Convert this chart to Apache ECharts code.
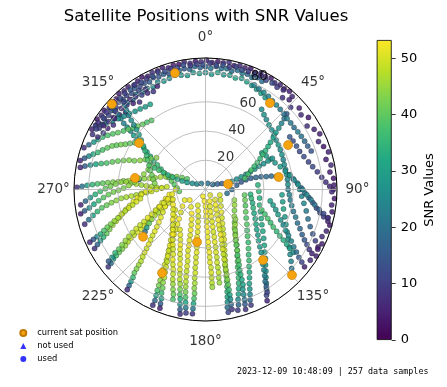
<!DOCTYPE html>
<html><head><meta charset="utf-8">
<script src="https://cdn.jsdelivr.net/npm/echarts@6/dist/echarts.min.js"></script>
<style>html,body{margin:0;padding:0;background:#fff}#c{width:447px;height:387px}</style>
</head><body><div id="c"></div>
<script>
// ---- texts / ticks ----
const titleText = 'Satellite Positions with SNR Values';
const footerText = '2023-12-09 10:48:09 | 257 data samples';
const angleTicks = [0, 45, 90, 135, 180, 225, 270, 315];
const angleTickLabels = ['0°', '45°', '90°', '135°', '180°', '225°', '270°', '315°'];
const radiusTicks = [20, 40, 60, 80];
const colorbarTicks = [0, 10, 20, 30, 40, 50];
const snrMin = 0, snrMax = 53.25, radiusMax = 90;
const legendNames = ['current sat position', 'not used', 'used'];

// ---- current satellite positions (azimuth deg, radius) ----
const currentAz = [345.3, 312.4, 36.7, 61.7, 305.0, 279.3, 76.3, 189.2, 207.5, 140.8, 134.7, 80.3, 232.9];
const currentR  = [82.4, 86.7, 73.8, 64.2, 55.5, 48.9, 15.9, 36.4, 64.4, 62.3, 83.3, 50.8, 53.6];

// ---- satellite tracks: [azimuth, radius, SNR] ----
const sat01 = [[298,88,6],[300.5,87,5],[303,88.5,4],[305.5,87.5,7],[308,88,5],[310.5,86.5,8],[313,88,6],[315.5,87,4],[318,88.5,5],[320.5,87.5,7],[323,88,6],[325.5,86.5,9],[328,87.5,5],[330.5,88.5,4],[333,87,6],[335.5,88,8],[338,87.5,5],[340.5,88.5,6],[343,87,7],[345.5,88,5],[348,87.5,4],[350.5,88.5,6],[353,87,8],[355.5,88,5],[358,87.5,7],[0.5,88.5,6],[3,87,5],[5.5,88,4],[8,87.5,6],[10.5,88.5,8],[13,87,5],[15.5,88,7],[18,87.5,6],[20.5,88.5,4],[23,87,5],[25.5,88,7],[28,87.5,6],[30.5,88.5,5],[33,87,8],[35.5,88,6],[38,87.5,4],[40.5,88.5,5],[43,87,7]];
const sat02 = [[300,84,10],[302.5,83,12],[305,84.5,9],[307.5,83.5,11],[310,84,13],[312.5,83,10],[315,84.5,12],[317.5,83.5,14],[320,84,11],[322.5,83,13],[325,84.5,15],[327.5,83.5,12],[330,84,14],[332.5,83,16],[335,84.5,13],[337.5,83.5,15],[340,84,17],[342.5,83,14],[345,84.5,16],[347.5,83.5,18],[350,84,15],[352.5,83,17],[355,84.5,19],[357.5,83.5,16],[0,84,18],[2.5,83,20],[5,84.5,17],[7.5,83.5,19],[10,84,21],[12.5,83,18],[15,84.5,20],[17.5,83.5,22],[20,84,19],[22.5,83,21],[25,84.5,18],[27.5,83.5,20]];
const sat03 = [[318,80,22],[321,79,24],[324,80.5,21],[327,79.5,25],[330,80,23],[333,79,26],[336,80.5,24],[339,79.5,27],[342,80,25],[345,81,28],[348,80,26],[351,79,28],[354,80.5,27],[357,79.5,29],[0,80,26],[3,79,28],[6,80.5,30],[9,79.5,27],[12,80,29],[15,79,31],[18,80,28],[21,79,30],[24,78,27],[27,77,29],[30,76,31],[33,75,28],[36,74,30]];
const sat04 = [[302,79,6],[305,77,8],[308,80,5],[311,78,9],[314,76,7],[317,79,10],[320,77,6],[323,75,8],[326,78,11],[329,77,7],[332,76,9],[335,78,6]];
const sat05 = [[312,86,20],[311,82.5,22],[310.5,79,21],[310,75.5,24],[309,72,23],[308.5,68.5,26],[308,65,25],[307,61.5,28],[306,58,30],[305,54.5,29],[304,51,32],[302.5,47.5,31],[301,44,34],[299,40.5,33],[297,37,36],[294.5,33.5,35],[291.5,30,38],[288,27,37],[284,24,40],[279,21.5,39],[273,19.5,41],[266,18,40]];
const sat06 = [[289,88,8],[291,85.5,18],[293,83,28],[295,81,33],[297,79,36],[299,76.5,38],[301,74,39],[303,71.5,40],[305.5,69,38],[308,67,40],[310.5,65,39],[313,63.5,41],[316,62,40],[319,61,38],[322,60,39]];
const sat07 = [[283,88,6],[284.5,85.5,15],[286,83,25],[287.5,80.5,32],[289,78,36],[291,75.5,38],[293,73,40],[295,70.5,41],[296.5,68,40],[298,65.5,42],[299.5,63,41],[301.5,60.5,40],[303.5,58,39]];
const sat08 = [[300,87,12],[302,84,18],[304,81.5,22],[306.5,79,25],[309,77,27],[312,75,26],[315,73.5,28],[318,72,27],[321,71,29],[324,70,28],[327,69.5,30]];
const sat09 = [[280,87,7],[281,84,16],[282,80.5,26],[283,77,32],[284,73.5,36],[285,70,38],[286.5,66.5,40],[288,63,41],[289.5,59.5,42],[291,56,43],[292,52.5,42],[294,49,44],[296.5,46,43],[299.5,43,42],[303,40,44]];
const sat10 = [[271,88,8],[271.5,84.5,20],[272,81,30],[272.5,77.5,35],[273,74,38],[273.5,70.5,40],[274,67,42],[274.5,63.5,43],[275,60,44],[276,56.5,43],[276.5,53,45],[277.5,49.5,20],[278.5,46,15],[280,42.5,44],[281.5,39,46],[283,35.5,45],[285.5,32,46],[288,28.5,45],[291,25,44],[294,21.5,43],[297,18,41],[300,14.5,39]];
const sat11 = [[263,86,6],[264.5,82.5,18],[266,79,28],[267.5,75.5,34],[269,72,37],[270.5,68.5,40],[272,65,42],[273.5,61.5,43],[275,58,44],[275.5,54.5,45],[275,51,44],[274.5,47.5,46],[274,44,45],[273.5,40.5,47],[273,37,46],[272.5,33.5,47],[272,30,48]];
const sat12 = [[259,87,5],[260,84,15],[261,80.5,25],[262.5,77,32],[264,73.5,36],[265.5,70,39],[267,66.5,41],[268.5,63,42],[269.5,59.5,43],[271,56,42],[273,52.5,44],[276,49,43],[279.5,46,42],[284,43.5,44],[289,41.5,43],[294,40,42]];
const sat13 = [[254,86,8],[255.5,82.5,20],[257,79,30],[258.5,75.5,35],[260,72,39],[261,68.5,41],[262,65,43],[263,61.5,44],[264,58,45],[264.5,54.5,46],[265,51,47],[265.5,47.5,46],[266.5,44,48],[267,40.5,47],[268,37,49],[270,33.5,48],[272,30,49],[274,26.5,48]];
const sat14 = [[270,38,50],[268,41,51],[265.5,44,50],[263,47,52],[260.5,50,51],[258,53,50],[256,56,49],[254,59,50],[252,62,48],[250.5,65,47],[249,68,45],[247.5,71,43],[246,74,40],[245,77,35],[244,80,27],[243,83,17],[242,86,8]];
const sat15 = [[257,28,51],[253,31,50],[249.5,34,52],[246.5,37,51],[244,40,50],[242,43,52],[240.5,46,50],[239.5,49,51],[238.5,52,49],[238,55,50],[237.5,58,48],[237,61,49],[236,64,47],[235,67,45],[234.5,70,43],[234,73,41],[233.5,76,37],[233,79,30],[232,82,20],[231.5,85,9]];
const sat16 = [[253,24,48],[250,27,49],[247.5,30,47],[245.5,33,48],[244,36,46],[243,39,47],[241,42,44],[239,45,40],[237,48,30],[235,50.5,20],[233.5,53,14]];
const sat17 = [[262,25,52],[254,27.5,51],[247,30,52],[242,33,50],[238,36,51],[235,39,52],[232.5,42,50],[230.5,45,51],[229,48,49],[227.5,51,50],[226,54,51],[225,57,49],[224,60,50],[223,63,48],[222,66,47],[221.5,69,45],[221,72,43],[220.5,75,40],[219.5,78,36],[219,81,28],[218.5,84,17],[218,87,7]];
const sat18 = [[243,16,51],[234,19.5,52],[227,23,50],[222,27,52],[219,30.5,51],[216.5,34,50],[215,37.5,52],[213.5,41,50],[212,44.5,51],[211,48,49],[210,51.5,50],[209,55,48],[208.5,58.5,49],[208,62,47],[207,66,46],[206.5,69.5,44],[206,73,42],[205.5,76.5,38],[205,80,30],[204.5,83.5,18],[204.5,87,8]];
const sat19 = [[236,25,50],[229,28,51],[224,31.5,49],[220,35,50],[217,38.5,52],[214.5,42,50],[212.5,45.5,51],[211,49,49],[209.5,52.5,50],[208,56,48],[207,59.5,49],[206,63,47],[205,66.5,46],[204.5,70,44],[203.5,73.5,41],[203,77,36],[202,80.5,28],[201.5,84,16],[201,87,6]];
const sat20 = [[236,13,52],[220,15.5,51],[210,19,53],[205,22.5,52],[202,26,51],[200,29.5,52],[198.5,33,50],[197.5,36.5,51],[196.5,40,52],[196,43.5,50],[195,47,51],[194,50.5,49],[193.5,54,50],[193,57.5,48],[192.5,61,49],[192,64.5,47],[191.5,68,45],[191,71.5,42],[190.5,75,38],[190,78.5,32],[189.5,82,22],[189,85.5,10]];
const sat21 = [[206,12,50],[199,15.5,51],[195,19,49],[193,22.5,50],[191.5,26,52],[190.5,29.5,50],[190,33,51],[189,36.5,48],[188.5,40,50],[188,43.5,51],[188,47,49],[187.5,50.5,50],[187.5,54,48],[187,57.5,49],[187,61,47],[186.5,64.5,46],[186.5,68,44],[186,71.5,41],[186,75,38],[186,78.5,32],[186,82,21],[186,85.5,9]];
const sat22 = [[200,5,52],[185,8,53],[180,11.5,52],[179,15,53],[178.5,18.5,52],[178,22,51],[178,25.5,53],[177.5,29,52],[177.5,32.5,51],[177,36,53],[177,39.5,51],[176.5,43,52],[176.5,46.5,50],[176.5,50,51],[176,53.5,49],[176,57,50],[176,60.5,48],[176,64,47],[176,67,45]];
const sat23 = [[140,5,51],[160,8.5,52],[165,12,50],[167,15.5,51],[168,19,52],[168.5,22.5,50],[169,26,51],[169.5,29.5,49],[169.5,33,50],[170,36.5,51],[170,40,49],[170.5,43.5,50],[170.5,47,48],[171,50.5,49],[171,54,47],[171,57.5,48],[171.5,61,46],[171.5,64.5,45]];
const sat24 = [[111,10.5,50],[125,12.5,49],[137,15.5,50],[145,19,51],[150,22.5,49],[153.5,26,50],[156,29.5,48],[158,33,49],[159.5,36.5,50],[161,40,48],[162.5,43.5,49],[163.5,47,47],[164.5,50.5,46],[165.5,54,44],[166,57.5,43],[166.5,61,41],[167,64.5,39],[167.5,68,37],[168,71.5,34],[168.5,75,31],[169,78.5,27],[169.5,82,20],[169.5,85.5,11]];
const sat25 = [[110,21,44],[118,22.5,45],[126,24.5,43],[133,27,44],[138.5,30,42],[143,33,43],[146,36.5,41],[148.5,40,42],[150.5,43.5,40],[152.5,47,41],[154.5,50.5,39],[156,54,40],[157.5,57.5,38],[158.5,61,37],[159.5,64.5,36],[160.5,68,34],[161.5,71.5,32],[162.5,75,30],[163.5,78.5,25],[164,82,18],[165,85.5,10]];
const sat26 = [[98,27,40],[105,28,41],[112,29.5,39],[119,31.5,40],[125,34,38],[130,37,39],[134.5,40,37],[138,43,38],[141,46.5,36],[144,50,37],[146.5,53.5,35],[148.5,57,36],[150.5,60.5,34],[152,64,33],[153.5,67.5,31],[155,71,30],[156,74.5,28],[157,78,24],[158,81.5,18],[158.5,85,10]];
const sat27 = [[85,36,34],[92,36.5,35],[99,37.5,33],[106,38.5,34],[112,40.5,32],[117.5,43,33],[122,45.5,31],[126,48.5,32],[130,52,30],[133.5,55.5,31],[136.5,59,29],[139,62.5,30],[141.5,66,28],[143.5,69.5,27],[145.5,73,25],[147,76.5,22],[148.5,80,18],[150,83.5,12],[151,87,6]];
const sat28 = [[94,52.5,30],[99,53.5,29],[104,55,31],[109,57.5,28],[113.5,60,29],[117.5,63,27],[121,66,28],[124.5,69.5,26],[127.5,73,25],[130,76.5,23],[132.5,80,20],[134.5,83.5,16]];
const sat29 = [[90,64.5,26],[94,66,24],[98,68,25],[102,70.5,22],[106,73,20],[109.5,76,17],[112.5,79.5,14],[115,83,10],[117,86.5,6]];
const sat30 = [[35,67,26],[38,65,27],[41,63.5,25],[44.5,62,28],[48,61,26],[51.5,60,27],[55,59,25],[58.5,58.5,28],[62,58,26],[65.5,57.5,27],[69,57,24],[72.5,56.5,26],[76,56.5,25],[79.5,56.5,27],[83,56.5,24],[86.5,56.5,26],[90,56.5,23],[93.5,57.5,24],[97,58.5,22],[100.5,60,23],[104,62,21],[107,64.5,22],[110,67,20],[112.5,70,18],[115,73,17],[117,76,15],[118.5,79,12],[120,82,9],[121,85,6]];
const sat31 = [[40,82,8],[43,84,6],[46,81,9],[49,85,5],[52,83,7],[55,86,4],[58,82,8],[61,85,6],[64,87,5],[67,84,7],[70,86,4],[73,88,6],[76,85,5],[79,87.5,7],[82,86,5],[85,88,4]];
const sat32 = [[58,68,15],[61,68.5,13],[64.5,69,14],[68,69.5,12],[71.5,71,13],[75,73,11],[78,75,12],[81,77.5,10],[84,80,9],[86.5,82.5,8],[88.5,85,6],[90,87.5,5]];
const sat33 = [[80,58.5,22],[83,60.5,20],[86,63,21],[89,65.5,18],[92,68,19],[94.5,71,16],[97,74,15],[99.5,77,13],[101.5,80,11],[103,83,9],[104.5,86.5,6]];
const sat34 = [[57,46,30],[61,47.5,29],[65,49,31],[69,51,28],[73,53.5,29],[77,56,27],[80.5,58.5,28],[84,61,26],[87,63.5,27],[90,66.5,24],[93,69.5,25],[95.5,72.5,22],[98,75.5,20],[100,79,16],[101.5,82.5,12],[103,86,8]];
const sat35 = [[110,41,38],[112.5,44,37],[115,47,38],[117,50,36],[119,53,37],[120.5,56.5,35],[122,60,34],[123,63.5,33],[124,67,32],[125,70.5,30],[125.5,74,28]];
const sat36 = [[294,41.5,38],[293,38,36],[292.5,34.5,37],[292,31,35],[291,27.5,33],[290.5,24,34],[290,20.5,32],[290,17,30],[291,13.5,28],[295,10,26],[303,7,24],[325,5,22],[20,4.5,20],[55,6,18],[65,9,17],[70,12,16],[74,15.5,18]];
const sat37 = [[73,19,25],[71.5,22.5,26],[70.5,26,27],[69.5,29.5,25],[68.5,33,26],[67.5,36.5,28],[66.5,40,27],[66,43.5,26],[65.5,47,28],[65,50.5,27]];
const sat38 = [[100,15,20],[90,18,18],[82,21.5,16],[78,25,15],[76.5,28.5,17],[76,32,16],[76.5,35.5,18],[77,39,17],[78,42.5,19],[78.5,46,18],[79.5,49.5,20]];
const sat39 = [[74,28,38],[70,31,37],[67,34,38],[64.5,37,36],[62.5,40,37],[60.5,43,35],[58.5,46,36],[57,49,34],[55.5,52,33],[54,55,32],[52.5,58.5,30],[51,62,29],[50,65.5,27],[49,69,24],[48,72.5,20],[47,76,15]];
const sat40 = [[316,80,22],[315,76.5,24],[314,73,23],[313,69.5,26],[312,66,25],[311,62.5,28],[309.5,59,30],[307.5,55.5,32],[305,52,33],[302.5,49,35],[300,46.5,36],[297,44.5,38],[293,42,39],[289,40,40],[285,38,41],[281,36.5,42],[277,35,43]];
const sat41 = [[253,23.3,51],[245,24.5,52],[238.5,26,50],[232.5,28,51],[227.5,30.5,52],[223,33,50],[219,35.5,51],[216,38,52],[213,41,50],[210.5,44,51],[208.5,46.5,49],[206.5,49.5,50],[205,53,51],[203.5,56,49],[202,59,50],[201,62,48],[200,65.5,47],[199,68.5,45],[198,72,43],[197,75,41],[196.5,78.5,38]];
const sat42 = [[212.5,32.5,50],[209,35.5,51],[206.5,38.5,50],[204.5,41.5,52],[203,44.5,51],[201.5,47.5,50],[200,50.5,49],[198.8,54,51],[197.7,57.5,50],[196.8,60.5,48],[196,64,47],[195,67,45],[194.3,70.5,42],[193.7,74,38],[193,77,33],[192.5,80.5,26],[192,84,16],[191.5,87,8]];
const sat43 = [[136,9.5,51],[147,12.5,52],[152,15.5,51],[155.5,19,50],[157.5,22.5,52],[159.5,26,51],[160.5,29,50],[161.5,32.5,52],[162.5,36,51],[163.3,39.5,49],[164,42.5,50],[164.5,46,48],[165,49.5,49],[165.4,53,47],[165.8,56.5,46],[166,60,45],[166.3,63.5,43],[166.6,67,40],[166.8,70.5,36],[167,74,31],[167.2,77,26],[167.4,80.5,18],[167.5,84,9]];
const sat44 = [[135,29,44],[140,31.5,45],[144,34.5,43],[147,37.5,44],[149.5,40.5,42],[151,43.5,40],[152.5,47,41],[154,50,38],[155,53.5,39],[156,56.5,37],[157,60,35],[157.5,63,34],[158,66.5,32],[158.5,70,30],[159.5,73,28],[160,76.5,25],[160.5,80,21],[161,83,15],[161.5,86.5,8]];
const sat45 = [[96,31,34],[101,32,35],[106,33.5,33],[111,35,34],[116,37,32],[120.5,39.5,31],[124.5,42,32],[128,44.5,30],[131,47.5,29],[134,50.5,30],[136.5,54,28],[138.5,57.5,27],[140.5,61,28],[142.5,64.5,26],[144,68,25],[145.5,71.5,23],[147,75,20],[148,78.5,16],[149,82,11]];
const sat46 = [[270,20.5,50],[262,23,51],[256,26.5,52],[252,30,50],[249.5,33.5,51],[247.5,37,49],[245.5,40.5,50],[244,44,51],[242.5,47.5,49],[241.5,51,48],[240.5,54.5,49],[239.5,58,47],[238.5,61.5,46],[237.5,65,45],[236.5,68.5,43],[235.5,72,40],[235,75.5,35],[234,79,28],[233.5,82.5,16]];
const sat47 = [[88,88,5],[91,86.5,7],[94,88.5,4],[97,87,6],[100,88,5],[103,86,8],[106,88.5,4],[109,87.5,6],[112,86,7],[115,88,5],[118,87,4],[121,88.5,6],[124,86.5,7]];
const sat48 = [[25,79,24],[28,78,22],[31,77.5,25],[34,77,23],[37,76,21],[40,75.5,24],[43,75,22],[46,74.5,20],[49,74,23],[52,74,21],[55,74,19],[58,74.5,22],[61,75,20],[64,75.5,18],[67,76,16],[70,77,14]];
const sat49 = [[296,86,9],[299,85.5,11],[302,86.5,8],[305,85.5,12],[308,86,10],[311,85.5,14],[314,86.5,9],[317,85.5,13],[320,86,11],[323,85.5,15],[326,86.5,10],[329,85.5,12],[332,86,9],[335,85.5,14],[338,86.5,11],[341,85.5,13],[344,86,10],[347,85.5,12],[350,86.5,14],[353,85.5,9],[356,86,11],[359,85.5,13],[2,86.5,10],[5,85.5,12],[8,86,14],[11,85.5,9],[14,86.5,11],[17,85.5,13],[20,86,10],[23,85.5,12],[26,86.5,9],[29,85.5,11],[32,86,13],[35,85.5,10],[38,86.5,8]];
const sat50 = [[296,82,8],[299,80,10],[302,82.5,7],[305,81,9],[308,79,6],[311,81.5,10],[314,80,8],[317,82,11],[320,80.5,7],[323,79.5,9],[326,81.5,12],[329,80,8]];
const sat51 = [[262,45,49],[260,48,50],[258,51,48],[256.5,54,49],[255,57,47],[253.5,60,48],[252,63,46],[251,66,45],[250,69,43],[249,72,41],[248,75,38],[247,78,33],[246.5,81,25],[246,84,15],[245.5,87,7]];
const sat52 = [[100,45,30],[103,47.5,29],[106,50,28],[109,52.5,29],[112,55.5,27],[114.5,58.5,26],[117,61.5,27],[119,65,25],[121,68.5,24],[123,72,22],[124.5,75.5,19],[126,79,15],[127,82.5,11],[128,86,6]];

const tracks = [sat01,sat02,sat03,sat04,sat05,sat06,sat07,sat08,sat09,sat10,sat11,sat12,sat13,sat14,sat15,sat16,sat17,sat18,sat19,sat20,
  sat21,sat22,sat23,sat24,sat25,sat26,sat27,sat28,sat29,sat30,sat31,sat32,sat33,sat34,sat35,sat36,sat37,sat38,sat39,sat40,
  sat41,sat42,sat43,sat44,sat45,sat46,sat47,sat48,sat49,sat50,sat51,sat52];

const viridis = ['#440154','#482475','#414487','#355f8d','#2a788e','#21918c','#22a884','#44bf70','#7ad151','#bddf26','#fde725'];

// ---- build ----
const snrPoints = [];
tracks.forEach(t => t.forEach(p => snrPoints.push([p[1], p[0], p[2]])));
const currentPoints = currentAz.map((a, i) => [currentR[i], a]);
const labelR = 104;
const angleLabelPoints = angleTicks.map((a, i) => ({value: [labelR, a], name: angleTickLabels[i]}));
const radiusLabelPoints = radiusTicks.map(r => ({value: [r, 22.5], name: String(r)}));

const chart = echarts.init(document.getElementById('c'), null, {renderer: 'canvas'});
const FONT = 'DejaVu Sans';
chart.setOption({
  animation: false,
  backgroundColor: '#ffffff',
  title: {text: titleText, left: 206, top: 8, padding: 0, textAlign: 'center',
    textStyle: {fontFamily: FONT, fontSize: 16.5, fontWeight: 'normal', color: '#000'}},
  legend: {
    orient: 'vertical', left: 19.3, top: 328, padding: 0, itemWidth: 6, itemHeight: 6, itemGap: 3,
    data: [{name: legendNames[0], icon: 'circle'}, {name: legendNames[1], icon: 'triangle'}, {name: legendNames[2], icon: 'circle'}],
    textStyle: {fontFamily: FONT, fontSize: 8.3, color: '#000', lineHeight: 10, padding: [0, 0, 0, 6]}, selectedMode: false
  },
  polar: {center: [205.5, 189.5], radius: 131.5},
  angleAxis: {type: 'value', min: 0, max: 360, interval: 45, startAngle: 90, clockwise: true, z: 3,
    axisLine: {show: true, lineStyle: {color: '#000', width: 1}}, axisTick: {show: false}, axisLabel: {show: false},
    splitLine: {show: true, lineStyle: {color: '#b0b0b0', width: 0.8}}},
  radiusAxis: {type: 'value', min: 0, max: radiusMax, interval: 20, z: 3,
    axisLine: {show: false}, axisTick: {show: false}, axisLabel: {show: false},
    splitLine: {show: true, lineStyle: {color: '#b0b0b0', width: 0.8}}},
  grid: {left: 376.7, top: 40, width: 15, height: 300},
  xAxis: {type: 'category', data: ['snr'], show: false, gridIndex: 0},
  yAxis: {type: 'value', gridIndex: 0, min: snrMin, max: snrMax, position: 'right',
    axisLine: {show: false}, splitLine: {show: false},
    axisTick: {show: true, length: 4, customValues: colorbarTicks, lineStyle: {color: '#000', width: 0.8}},
    axisLabel: {show: true, customValues: colorbarTicks, margin: 9, fontFamily: FONT, fontSize: 13, color: '#000'},
    name: 'SNR Values', nameLocation: 'middle', nameRotate: 90, nameGap: 31,
    nameTextStyle: {fontFamily: FONT, fontSize: 13, color: '#000'}},
  visualMap: {type: 'continuous', show: false, min: snrMin, max: snrMax, dimension: 2, seriesIndex: 0,
    inRange: {color: viridis}},
  series: [
    {name: 'SNR', type: 'scatter', coordinateSystem: 'polar', data: snrPoints, symbolSize: 5.2, z: 2, clip: false,
      itemStyle: {borderColor: 'rgba(0,0,0,0.6)', borderWidth: 0.5, opacity: 0.85}},
    {name: legendNames[0], type: 'scatter', coordinateSystem: 'polar', data: currentPoints, symbolSize: 9, z: 5,
      itemStyle: {color: '#f5a30f', borderColor: '#c07800', borderWidth: 0.6, opacity: 1}},
    {name: legendNames[1], type: 'scatter', coordinateSystem: 'polar', data: [], symbol: 'triangle', itemStyle: {color: '#0000ff'}},
    {name: legendNames[2], type: 'scatter', coordinateSystem: 'polar', data: [], symbol: 'circle', itemStyle: {color: '#0000ff'}},
    {name: 'rlabels', type: 'scatter', coordinateSystem: 'polar', data: radiusLabelPoints, symbolSize: 0, z: 6, clip: false, silent: true,
      label: {show: true, formatter: p => p.name, position: 'inside', offset: [9, -5], fontFamily: FONT, fontSize: 13.5, color: '#000'}},
    {name: 'alabels', type: 'scatter', coordinateSystem: 'polar', data: angleLabelPoints, symbolSize: 0, z: 6, clip: false, silent: true,
      label: {show: true, formatter: p => p.name, position: 'inside', fontFamily: FONT, fontSize: 13.5, color: '#000'}},
    {name: 'colorbar', type: 'bar', xAxisIndex: 0, yAxisIndex: 0, data: [snrMax], barWidth: '100%', silent: true,
      itemStyle: {borderColor: '#000', borderWidth: 0.8,
        color: {type: 'linear', x: 0, y: 1, x2: 0, y2: 0,
          colorStops: viridis.map((c, i) => ({offset: i / (viridis.length - 1), color: c}))}}}
  ],
  graphic: [{type: 'text', right: 18.5, top: 368, style: {text: footerText, font: '8.4px "DejaVu Sans Mono"', fill: '#000'}}]
});
</script></body></html>
